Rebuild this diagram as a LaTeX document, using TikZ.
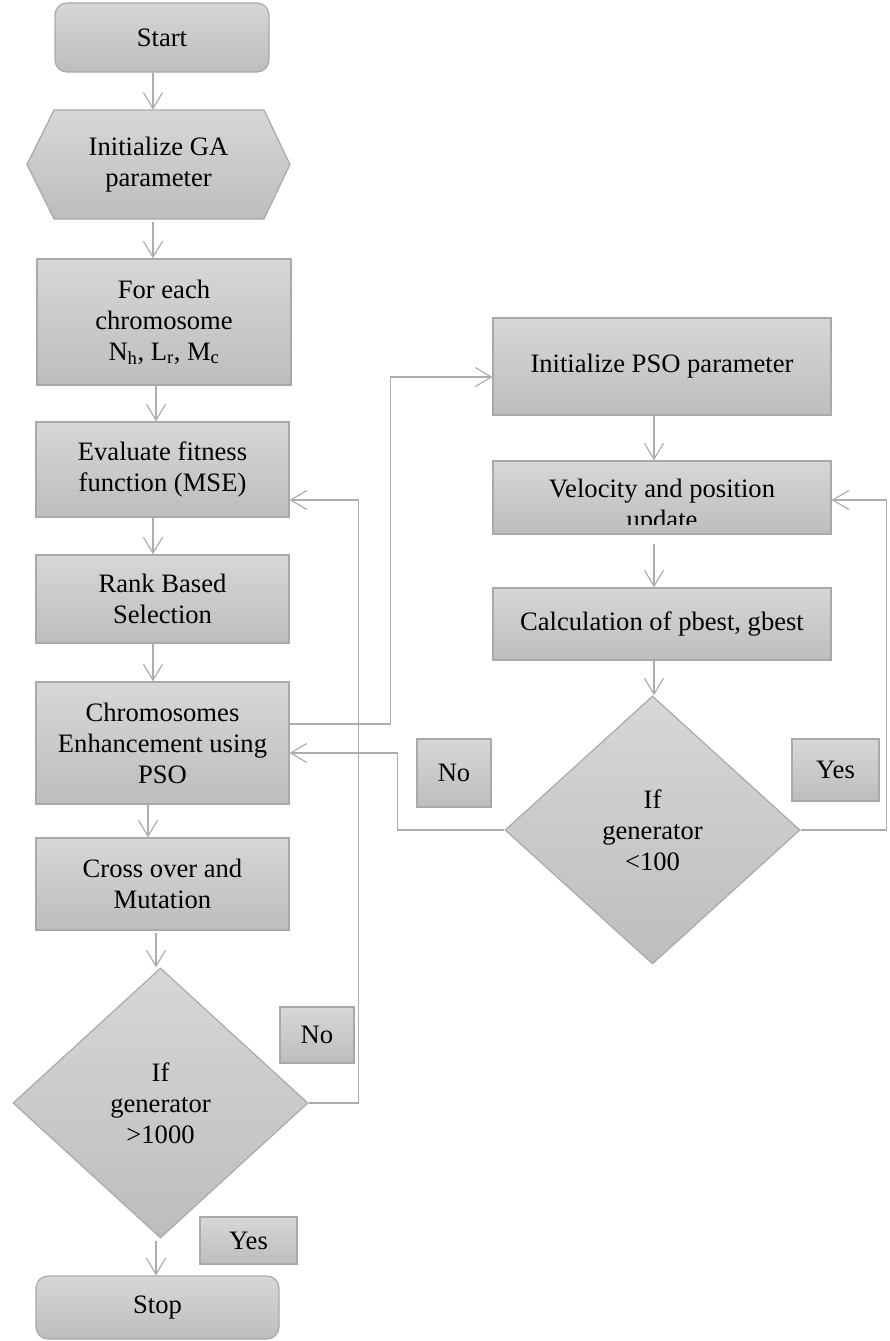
\documentclass[tikz,border=0pt]{standalone}
\usepackage{fontspec}
\setmainfont{Liberation Serif}
\usetikzlibrary{arrows.meta,shapes.geometric}
\definecolor{boxtop}{HTML}{D7D7D7}
\definecolor{boxbot}{HTML}{BDBDBD}
\definecolor{bord}{HTML}{A9A9A9}
\definecolor{linec}{HTML}{ADADAD}
\begin{document}
\begin{tikzpicture}[x=1pt,y=-1pt,
  every node/.style={font=\fontsize{26.6}{31}\selectfont, align=center, inner sep=0pt, text=black},
  boxfill/.style={draw=bord, line width=1.2pt, top color=boxtop, bottom color=boxbot},
  boxn/.style={boxfill, rectangle},
  term/.style={boxfill, rectangle, rounded corners=12pt},
  dec/.style={boxfill, diamond},
  arr/.style={draw=linec, line width=1.2pt, -{Straight Barb[length=16pt,width=19pt]}},
  conn/.style={draw=linec, line width=1.2pt}]
\useasboundingbox (0,0) rectangle (889,1341);

% left column
\node[term, minimum width=214, minimum height=69] (start) at (162,37.5) {Start};
\path[boxfill] (27,164.5) -- (54,110) -- (264,110) -- (290,164.5) -- (264,219) -- (54,219) -- cycle;
\node[minimum width=263, minimum height=109] (init) at (158.5,164.5) {Initialize GA\\parameter};
\node[boxn, minimum width=254, minimum height=126] (each) at (164,322) {For each\\chromosome\\N\textsubscript{h}, L\textsubscript{r}, M\textsubscript{c}};
\node[boxn, minimum width=253, minimum height=95] (eval) at (162.5,469.5) {Evaluate fitness\\function (MSE)};
\node[boxn, minimum width=253, minimum height=88] (rank) at (162.5,599) {Rank Based\\Selection};
\node[boxn, minimum width=253, minimum height=122] (chrom) at (162.5,743) {Chromosomes\\Enhancement using\\PSO};
\node[boxn, minimum width=253, minimum height=92] (cross) at (162.5,884) {Cross over and\\Mutation};
\node[dec, minimum width=295, minimum height=270] (d1) at (160.5,1103) {If\\generator\\>1000};
\node[term, minimum width=243, minimum height=63] (stop) at (157.5,1307.5) {Stop};

\node[boxn, minimum width=74, minimum height=56] (no1) at (317,1035) {No};
\node[boxn, minimum width=97, minimum height=47] (yes1) at (248.5,1240.5) {Yes};

% right column
\node[boxn, minimum width=338, minimum height=97] (pso) at (662,366.5) {Initialize PSO parameter};
\node[boxn, minimum width=338, minimum height=73] (vel) at (662,497.5) {};
\begin{scope}
  \clip (vel.north west) rectangle ([yshift=10]vel.south east);
  \node (veltext) at ([yshift=-9.5]vel.center) {Velocity and position\\update};
\end{scope}
\node[boxn, minimum width=338, minimum height=72] (calc) at (662,624) {Calculation of pbest, gbest};
\node[dec, minimum width=295, minimum height=268] (d2) at (652.5,830) {If\\generator\\<100};

\node[boxn, minimum width=74, minimum height=68] (no2) at (454,773) {No};
\node[boxn, minimum width=87, minimum height=62] (yes2) at (835.5,770) {Yes};

% vertical arrows
\draw[arr] ([xshift=-9]start.south) -- ([xshift=-9]start.south |- init.north);
\draw[arr] ([xshift=-5.5,yshift=-3]init.south) -- ([xshift=-5.5]init.south |- each.north);
\draw[arr] ([xshift=-8]each.south) -- ([xshift=-8]each.south |- eval.north);
\draw[arr] ([xshift=-9.5]eval.south) -- ([xshift=-9.5]eval.south |- rank.north);
\draw[arr] ([xshift=-9.5]rank.south) -- ([xshift=-9.5]rank.south |- chrom.north);
\draw[arr] ([xshift=-14.5]chrom.south) -- ([xshift=-14.5]chrom.south |- cross.north);
\draw[arr] ([xshift=-6.5,yshift=-2]cross.south) -- ([xshift=-6.5]cross.south |- d1.north);
\draw[arr] ([xshift=-4.5,yshift=-2]d1.south) -- ([xshift=-4.5]d1.south |- stop.north);

\draw[arr] ([xshift=-8]pso.south) -- ([xshift=-8]pso.south |- vel.north);
\draw[arr] ([xshift=-8,yshift=-9]vel.south) -- ([xshift=-8]vel.south |- calc.north);
\draw[arr] ([xshift=-8]calc.south) -- ([xshift=-8]calc.south |- d2.north);

% loops
\draw[arr] (d1.east) -- ++(50,0) |- ([yshift=-30.5]eval.east);
\draw[arr] ([yshift=19]chrom.east) -- ++(101,0) |- ([yshift=-10.5]pso.west);
\draw[arr] (d2.west) -- ++(-107,0) |- ([yshift=-10]chrom.east);
\draw[arr] (d2.east) -- ++(86,0) |- ([yshift=-2.5]vel.east);
\end{tikzpicture}
\end{document}
